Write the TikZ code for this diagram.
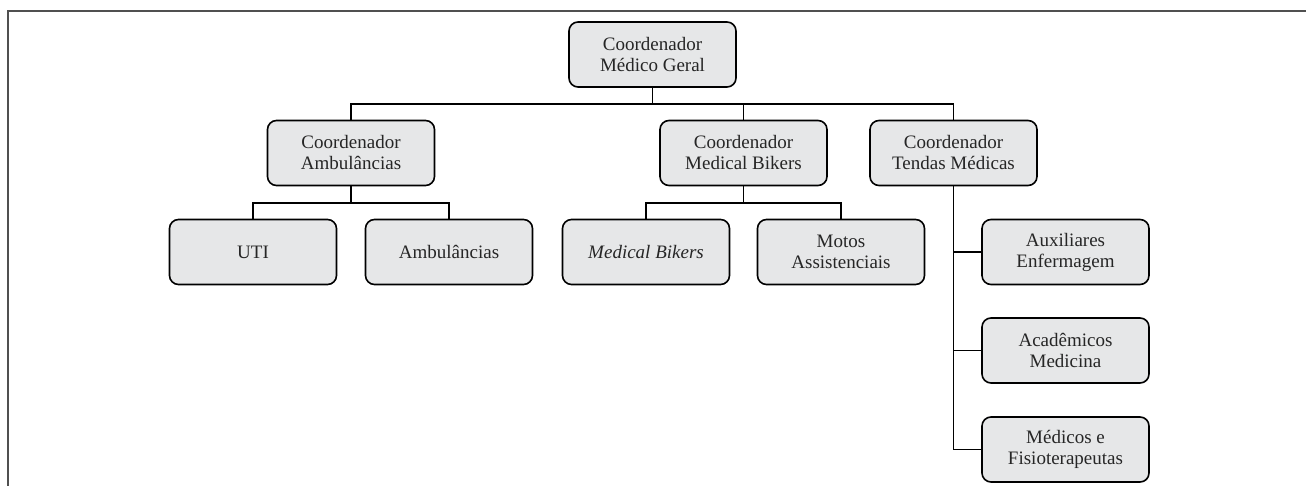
\documentclass[tikz,border=0pt]{standalone}
\usepackage{fontspec}
\setmainfont{Liberation Serif}
\definecolor{boxfill}{RGB}{230,231,232}
\definecolor{framegray}{RGB}{80,80,80}
\begin{document}
\begin{tikzpicture}[x=1pt,y=-1pt,
  orgbox/.style={draw=black, line width=1.6pt, fill=boxfill, rounded corners=9pt,
    minimum width=167pt, minimum height=65pt, align=center, inner sep=2pt,
    font=\fontsize{19}{21}\selectfont, text=black!85},
  link/.style={draw=black, line width=1.5pt}]
\useasboundingbox (0,0) rectangle (1306,486);
\draw[framegray, line width=1.8pt] (1306,11) -- (8,11) -- (8,486);

\node[orgbox] (geral) at (652.5,54.5) {Coordenador\\Médico Geral};
\node[orgbox] (amb) at (351,153) {Coordenador\\Ambulâncias};
\node[orgbox] (mb) at (743.5,153) {Coordenador\\Medical Bikers};
\node[orgbox] (tendas) at (953.5,153) {Coordenador\\Tendas Médicas};

\node[orgbox] (uti) at (253,252) {UTI};
\node[orgbox] (ambs) at (449,252) {Ambulâncias};
\node[orgbox] (bikers) at (646,252) {\itshape Medical Bikers};
\node[orgbox] (motos) at (841,252) {Motos\\Assistenciais};

\node[orgbox] (aux) at (1065.5,252) {Auxiliares\\Enfermagem};
\node[orgbox] (acad) at (1065.5,350.5) {Acadêmicos\\Medicina};
\node[orgbox] (med) at (1065.5,449.5) {Médicos e\\Fisioterapeutas};

% level 1
\draw[link] (geral.south) -- ++(0,16) coordinate (j1);
\draw[link] (amb.north) |- (j1);
\draw[link] (tendas.north) |- (j1);
\draw[link] (mb.north) -- (mb.north |- j1);

% Ambulancias group
\draw[link] (amb.south) -- ++(0,16.5) coordinate (j2);
\draw[link] (uti.north) |- (j2);
\draw[link] (ambs.north) |- (j2);

% Medical bikers group
\draw[link] (mb.south) -- ++(0,16.5) coordinate (j3);
\draw[link] (bikers.north) |- (j3);
\draw[link] (motos.north) |- (j3);

% Tendas group
\draw[link] (tendas.south) |- (med.west);
\draw[link] (aux.west) -- (aux.west -| tendas.south);
\draw[link] (acad.west) -- (acad.west -| tendas.south);
\end{tikzpicture}
\end{document}
